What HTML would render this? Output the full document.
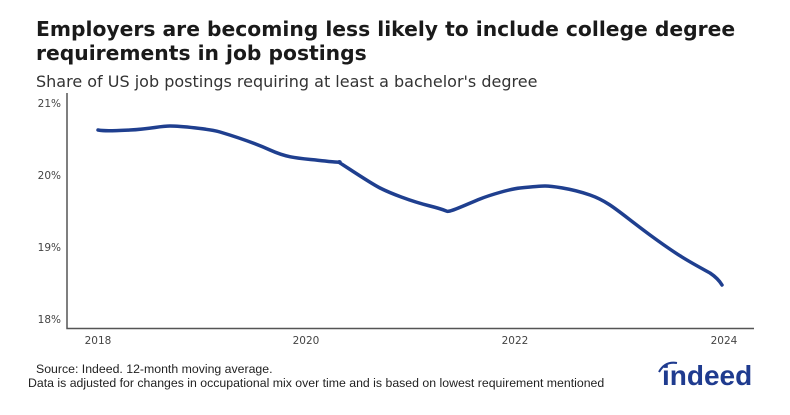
<!DOCTYPE html>
<html><head><meta charset="utf-8"><style>
body{margin:0;width:790px;height:415px;background:#fff;font-family:"DejaVu Sans","Liberation Sans",sans-serif;overflow:hidden;position:relative}
.t{position:absolute;left:36px;top:17px;font-size:20.3px;font-weight:bold;color:#1a1a1a;line-height:24px}
.s{position:absolute;left:36px;top:72px;font-size:16px;color:#333}
.f{position:absolute;left:28px;font-size:12.3px;color:#222;font-family:"Liberation Sans",sans-serif}
</style></head><body>
<div class="t">Employers are becoming less likely to include college degree<br>requirements in job postings</div>
<div class="s">Share of US job postings requiring at least a bachelor's degree</div>
<svg width="790" height="415" style="position:absolute;left:0;top:0">
<g font-family="DejaVu Sans,Liberation Sans,sans-serif" font-size="10.5" fill="#444">
<text x="61" y="107" text-anchor="end">21%</text>
<text x="61" y="179" text-anchor="end">20%</text>
<text x="61" y="251" text-anchor="end">19%</text>
<text x="61" y="323" text-anchor="end">18%</text>
<text x="98" y="344" text-anchor="middle">2018</text>
<text x="306" y="344" text-anchor="middle">2020</text>
<text x="515" y="344" text-anchor="middle">2022</text>
<text x="724" y="344" text-anchor="middle">2024</text>
</g>
<path d="M67 93V328.5H754" fill="none" stroke="#555" stroke-width="1.5"/>
<path d="M98 130C104 131 110 131 130 130S160 126 170 126S210 129 220 132S250 141 270 150S300 158 325 161S335 160 340 163S370 183 380 188S410 201 430 206S445 212 450 211S470 203 480 199S510 189 520 188S540 186 545 186S570 188 590 195S620 213 650 235S690 262 710 273C716 277 719 280 722 285" fill="none" stroke="#1f3f8f" stroke-width="3.5" stroke-linejoin="round" stroke-linecap="round"/>
<text x="662" y="385" font-family="Liberation Sans,sans-serif" font-weight="bold" font-size="28" fill="#1f3b8f">indeed</text>
<path d="M659 372q6-11 18-9" fill="none" stroke="#1f3b8f" stroke-width="2"/>
</svg>
<div class="f" style="left:36px;top:362px">Source: Indeed. 12-month moving average.</div>
<div class="f" style="top:376px">Data is adjusted for changes in occupational mix over time and is based on lowest requirement mentioned</div>
</body></html>
